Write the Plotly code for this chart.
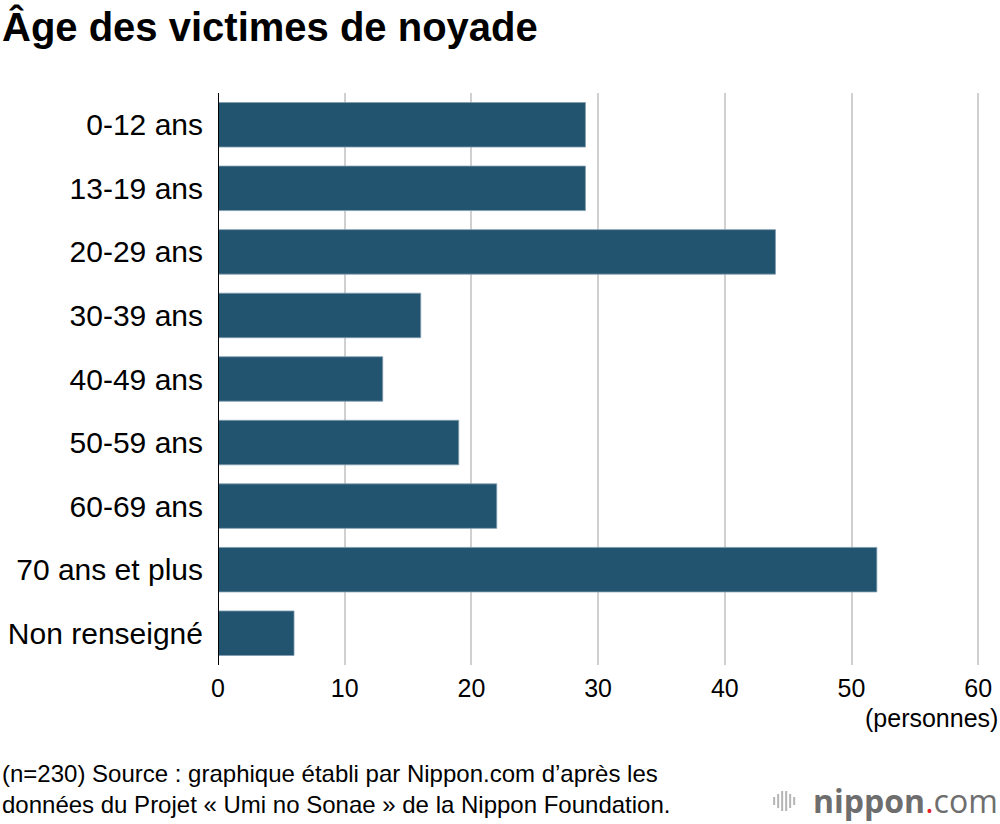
import plotly.graph_objects as go

categories = ["0-12 ans", "13-19 ans", "20-29 ans", "30-39 ans", "40-49 ans",
              "50-59 ans", "60-69 ans", "70 ans et plus", "Non renseigné"]
values = [29, 29, 44, 16, 13, 19, 22, 52, 6]
x_ticks = [0, 10, 20, 30, 40, 50, 60]

title_text = "Âge des victimes de noyade"
unit_text = "(personnes)"
source_text = ("(n=230) Source : graphique établi par Nippon.com d’après les<br>"
               "données du Projet « Umi no Sonae » de la Nippon Foundation.")

FONT = "Liberation Sans, Arial, Helvetica, sans-serif"
BAR = "#23546F"

fig = go.Figure(go.Bar(
    x=values, y=categories, orientation="h",
    marker=dict(color=BAR, line=dict(color="#7F9CAE", width=0.8)),
    hoverinfo="skip",
))

XMAX = 60.3
L, T = 218, 93
PW = (978 - 218) * XMAX / 60.0   # so that 60 lands at x=978
PH = 572
R = 1000 - L - PW

def px_x(x):
    return (x - L) / PW

def px_y(y):
    return (T + PH - y) / PH

fig.update_layout(
    width=1000, height=824,
    margin=dict(l=L, r=R, t=T, b=824 - T - PH),
    paper_bgcolor="white", plot_bgcolor="white",
    bargap=0.3,
    showlegend=False,
    font=dict(family=FONT, color="#000000"),
    xaxis=dict(
        range=[0, XMAX], tickvals=x_ticks, ticktext=[str(v) for v in x_ticks],
        showgrid=True, gridcolor="#D0D0D0", gridwidth=2,
        zeroline=False, showline=False, ticks="", automargin=False,
        tickfont=dict(size=25, family=FONT, color="#000"),
        ticklabelstandoff=6, fixedrange=True,
    ),
    yaxis=dict(
        categoryorder="array", categoryarray=categories[::-1],
        showgrid=False, zeroline=False, showline=False, ticks="", automargin=False,
        tickfont=dict(size=30, family=FONT, color="#000"),
        ticklabelstandoff=14, fixedrange=True,
    ),
    shapes=[
        dict(type="line", xref="x", yref="paper", x0=0, x1=0, y0=0, y1=1,
             line=dict(color="#000000", width=2)),
    ],
    annotations=[
        dict(text=f"<b>{title_text}</b>", xref="paper", yref="paper",
             x=px_x(0), y=px_y(27), xanchor="left", yanchor="middle",
             showarrow=False, font=dict(size=40, family=FONT, color="#000")),
        dict(text=unit_text, xref="paper", yref="paper",
             x=px_x(1000), y=px_y(718), xanchor="right", yanchor="middle",
             showarrow=False, font=dict(size=25, family=FONT, color="#000")),
        dict(text=source_text, xref="paper", yref="paper",
             x=px_x(0), y=px_y(789), xanchor="left", yanchor="middle",
             align="left", showarrow=False,
             font=dict(size=24, family=FONT, color="#000")),
        dict(text="<b>nippon</b><span style='color:#E8202A'>.</span>com",
             xref="paper", yref="paper",
             x=px_x(1000), y=px_y(800), xanchor="right", yanchor="middle",
             showarrow=False,
             font=dict(size=32, family="Open Sans, DejaVu Sans, sans-serif", color="#6E6E6E")),
    ],
)

# small logo icon (vertical bars)
icon_x = [774, 778, 782, 786, 790, 794]
icon_h = [8, 14, 20, 20, 14, 8]
for xx, hh in zip(icon_x, icon_h):
    fig.add_shape(type="line", xref="paper", yref="paper",
                  x0=px_x(xx), x1=px_x(xx),
                  y0=px_y(801 + hh / 2), y1=px_y(801 - hh / 2),
                  line=dict(color="#B5B5B5", width=2))

fig.write_html("out.html", config={"displayModeBar": False},
               post_script="document.body.style.margin='0';document.body.style.overflow='hidden';")
